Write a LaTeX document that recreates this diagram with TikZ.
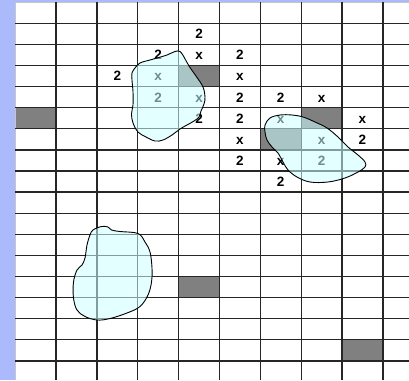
\documentclass[tikz,border=0pt]{standalone}
\usepackage{fontspec}
\setsansfont{Liberation Sans}
\definecolor{strip}{RGB}{170,186,250}
\definecolor{blobfill}{RGB}{205,255,255}
\begin{document}
\begin{tikzpicture}[x=1pt, y=-1pt,
    gridline/.style={black!85, line width=1.3pt},
    border/.style={gray!45, line width=0.8pt},
    shade/.style={fill=black!50},
    val/.style={font=\sffamily\bfseries\fontsize{13.5}{14}\selectfont, inner sep=0pt, text height=9.7pt, text depth=0pt},
    blob/.style={draw=black, line width=0.9pt, fill=blobfill, fill opacity=0.55}]

    \useasboundingbox (0,0) rectangle (409,380);
    \fill[strip] (0,0) rectangle (409,380);
    \fill[white] (15.2,2.2) rectangle (409,380);

    % grid
    \begin{scope}[shift={(15.2,2.2)}, x=40.85pt, y=-21.1pt]
        \foreach \c/\r in {0/5, 4/3, 7/5, 6/6, 4/13, 8/16}
            \fill[shade] (\c,\r) rectangle ++(1,1);
        \draw[border] (0,17.91) -- (0,0) -- (9.65,0);
        \foreach \c in {1,...,9}
            \draw[gridline] (\c,0) -- (\c,17.91);
        \foreach \r in {1,...,17}
            \draw[gridline] (0,\r) -- (9.65,\r);

        % marks
        \foreach \c/\r/\t in {4/1/2, 4/2/x, 3/2/2, 2/3/2, 3/3/x, 3/4/2, 4/4/x, 4/5/2,
                5/2/2, 5/3/x, 5/4/2, 6/4/2, 7/4/x, 5/5/2, 6/5/x, 8/5/x,
                5/6/x, 7/6/x, 8/6/2, 5/7/2, 6/7/x, 7/7/2, 6/8/2}
            \node[val] (v\c-\r) at (\c+0.5,\r+0.5) {\t};
    \end{scope}

    % blobs
    \draw[blob] plot[smooth cycle, tension=0.6] coordinates {
        (175,51.5) (180,51.5) (184,57) (189,66) (196,76) (203,87) (205,97)
        (204,104) (201,111) (199,117) (194,121) (187,125) (180,129) (172,135)
        (163,140) (155,141) (146,137) (138,132) (133,123) (131.5,114) (133,105)
        (133,92) (132,80) (132,73) (135,68) (140,63) (150,60) (157,58) (167,55)};
    \draw[blob] plot[smooth cycle, tension=0.6] coordinates {
        (265,125) (270,118) (280,115) (292,115) (303,117) (315,122) (327,128)
        (338,137) (348,147) (358,155) (365,162) (365,167) (358,172) (345,178)
        (328,182) (310,182) (297,177) (288,170) (283,162) (278,153) (272,147)
        (267,140) (265,132)};
    \draw[blob] plot[smooth cycle, tension=0.6] coordinates {
        (93,230) (101.5,226.5) (108,227) (111.5,230) (120,231.5) (138,233.5)
        (145,242) (150,252) (152,268) (151.5,282) (148,295) (140,306.5)
        (127,313) (110,318.5) (97,320) (85,316.5) (77,310) (73.5,298)
        (73.5,282) (77,270) (82,265) (85,258) (87,245) (90,235)};
\end{tikzpicture}
\end{document}
